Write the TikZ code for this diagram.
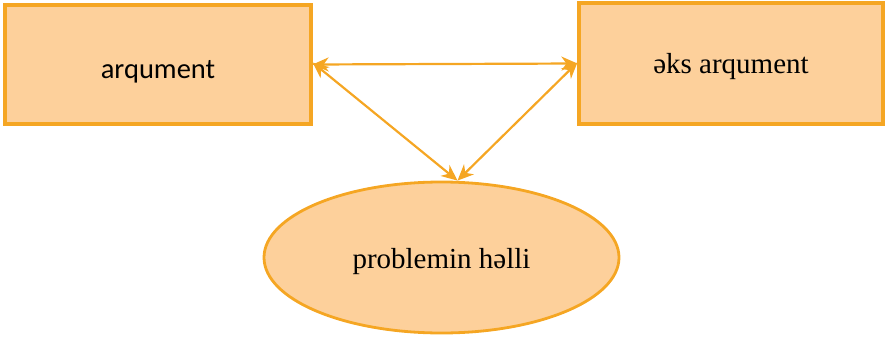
\documentclass[tikz,border=0pt]{standalone}
\usepackage{fontspec}
\setmainfont{Liberation Serif}
\newfontfamily\calibrifont{Carlito}
\usetikzlibrary{shapes.geometric,arrows.meta}
\definecolor{boxfill}{RGB}{253,208,155}
\definecolor{boxline}{RGB}{245,166,35}
\newcommand{\lowered}[2]{\raisebox{-#1}[\height][\depth]{#2}}

\begin{document}
\begin{tikzpicture}[x=1pt,y=-1pt,
    box/.style={draw=boxline, fill=boxfill, line width=3.2pt, inner sep=0pt},
    link/.style={draw=boxline, line width=2.2pt, {Stealth[length=16pt,width=14pt,inset=5pt]}-{Stealth[length=16pt,width=14pt,inset=5pt]}}]
      \useasboundingbox (0,0) rectangle (885,337);
      \node[box, minimum width=306pt, minimum height=119pt] (arg) at (158,64.5)
        {\lowered{7pt}{\fontsize{28.5}{34}\selectfont\calibrifont arqument}};
      \node[box, minimum width=304pt, minimum height=121pt] (counter) at (731,63.5)
        {\lowered{3pt}{\fontsize{29}{35}\selectfont əks arqument}};
      \node[box, ellipse, line width=2.8pt, minimum width=355pt, minimum height=151pt] (sol) at (441.5,257.5)
        {\lowered{4pt}{\fontsize{29}{35}\selectfont problemin həlli}};
      \coordinate (top) at ([xshift=16pt]sol.north);
      \draw[link] (arg.east) -- (counter.west);
      \draw[link] ([yshift=2pt]arg.east) -- (top);
      \draw[link] ([yshift=1pt]counter.west) -- (top);
    \end{tikzpicture}
\end{document}
